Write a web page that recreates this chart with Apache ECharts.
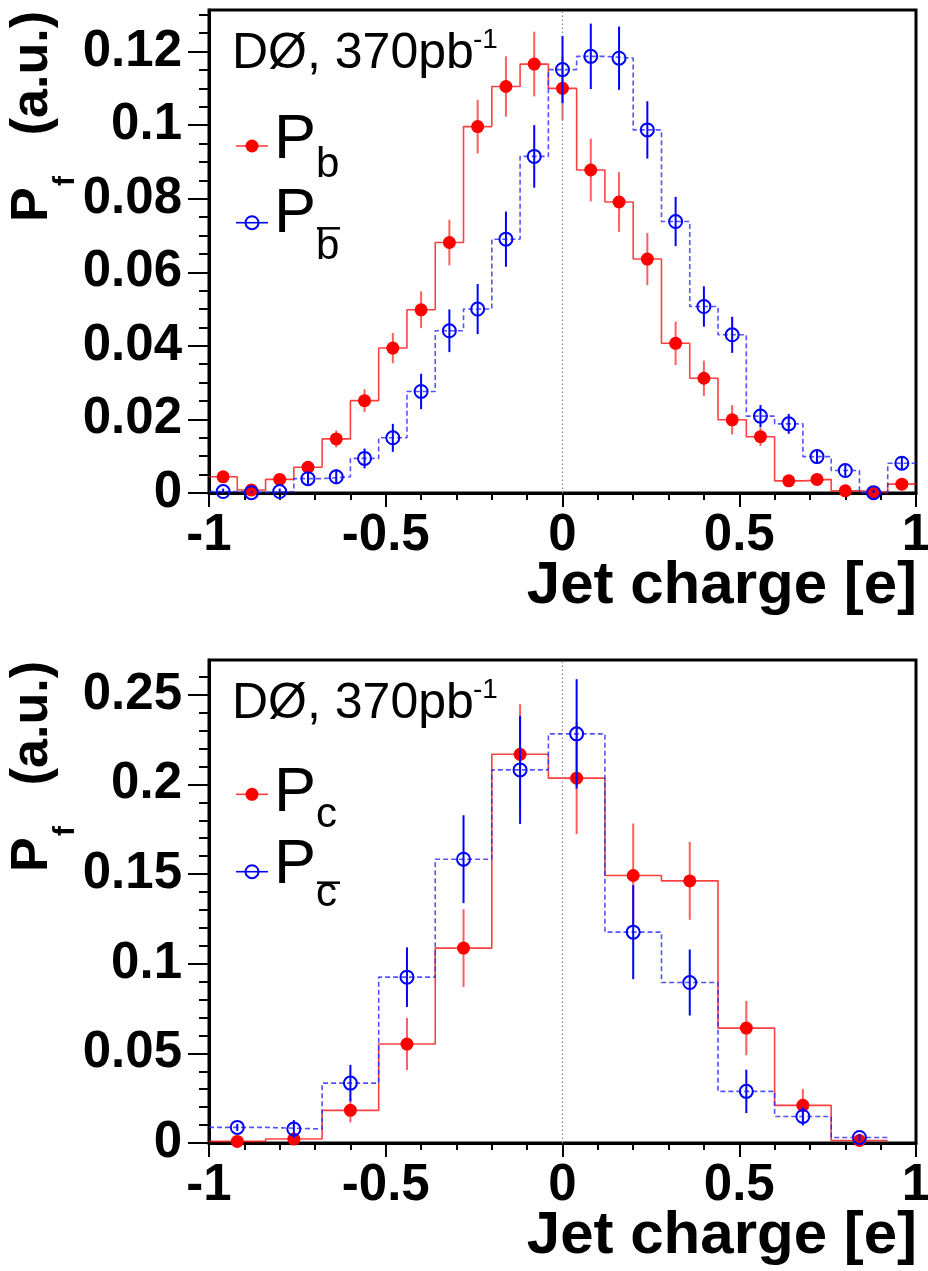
<!DOCTYPE html>
<html><head><meta charset="utf-8">
<script src="https://cdn.jsdelivr.net/npm/echarts@6/dist/echarts.min.js"></script>
<style>html,body{margin:0;padding:0;background:#fff}#c{width:928px;height:1271px}</style>
</head><body><div id="c"></div><script>
// ---------------- data ----------------
const xTickValues = [-1, -0.5, 0, 0.5, 1];
const xTickLabels = ['-1', '-0.5', '0', '0.5', '1'];
const yTickValuesB = [0, 0.02, 0.04, 0.06, 0.08, 0.10, 0.12];
const yTickLabelsB = ['0', '0.02', '0.04', '0.06', '0.08', '0.1', '0.12'];
const yTickValuesC = [0, 0.05, 0.10, 0.15, 0.20, 0.25];
const yTickLabelsC = ['0', '0.05', '0.1', '0.15', '0.2', '0.25'];

// top panel: b / b-bar jets, 25 bins of width 0.08
const binCentersB = [-0.96,-0.88,-0.80,-0.72,-0.64,-0.56,-0.48,-0.40,-0.32,-0.24,-0.16,-0.08,0.00,
                     0.08,0.16,0.24,0.32,0.40,0.48,0.56,0.64,0.72,0.80,0.88,0.96];
const binWidthB = 0.08;
const pB     = [0.0044,0.0008,0.0037,0.0070,0.0147,0.0251,0.0394,0.0498,0.0681,0.0996,0.1105,0.1166,0.1100,
                0.0878,0.0791,0.0636,0.0407,0.0312,0.0199,0.0153,0.0033,0.0037,0.0006,0.0001,0.0024];
const pBErr  = [0.0012,0.0006,0.0010,0.0014,0.0023,0.0031,0.0041,0.0050,0.0062,0.0073,0.0082,0.0088,0.0086,
                0.0085,0.0081,0.0071,0.0059,0.0048,0.0040,0.0025,0.0012,0.0012,0.0006,0.0004,0.0010];
const pBbar    = [0.0004,0.0001,0.0004,0.0039,0.0044,0.0094,0.0150,0.0276,0.0441,0.0500,0.0690,0.0915,0.1151,
                  0.1187,0.1182,0.0987,0.0738,0.0507,0.0430,0.0209,0.0188,0.0099,0.0061,0.0001,0.0081];
const pBbarErr = [0.0008,0.0004,0.0008,0.0015,0.0020,0.0027,0.0038,0.0048,0.0058,0.0068,0.0075,0.0085,0.0091,
                  0.0089,0.0086,0.0078,0.0067,0.0055,0.0049,0.0030,0.0027,0.0018,0.0016,0.0008,0.0018];

// bottom panel: c / c-bar jets, 12 bins of width 0.16
const binCentersC = [-0.92,-0.76,-0.60,-0.44,-0.28,-0.12,0.04,0.20,0.36,0.52,0.68,0.84];
const binWidthC = 0.16;
const pC       = [0.0009,0.0022,0.0182,0.0552,0.1087,0.2168,0.2035,0.1492,0.1462,0.0641,0.0210,0.0014];
const pCErr    = [0.0010,0.0020,0.0067,0.0145,0.0217,0.0279,0.0312,0.0290,0.0217,0.0151,0.0091,0.0010];
const pCbar    = [0.0087,0.0078,0.0334,0.0925,0.1583,0.2081,0.2282,0.1176,0.0895,0.0288,0.0148,0.0031];
const pCbarErr = [0.0020,0.0050,0.0102,0.0166,0.0245,0.0301,0.0305,0.0262,0.0184,0.0121,0.0050,0.0020];

const yMaxB = 0.1313;
const yMaxC = 0.2694;

// ---------------- helpers ----------------
const FONT = "'Liberation Sans', Arial, Helvetica, sans-serif";
const RED = '#ff0000', RED_LINE = 'rgba(255,0,0,0.75)', RED_ERR = 'rgba(255,40,40,0.75)';
const BLUE = '#0000ff', BLUE_LINE = 'rgba(40,40,255,0.8)';

function range(a, b, step) { const r = []; for (let v = a; v <= b + 1e-9; v += step) r.push(+v.toFixed(4)); return r; }
function pick(values, labels) {
  return function (v) { for (let i = 0; i < values.length; i++) if (Math.abs(values[i] - v) < 1e-7) return labels[i]; return ''; };
}
function stepData(c, v, w) {
  const d = c.map((x, i) => [+(x - w / 2).toFixed(4), v[i]]);
  d.push([+(c[c.length - 1] + w / 2).toFixed(4), v[v.length - 1]]);
  return d;
}
function ptData(c, v, e) { return c.map((x, i) => [x, v[i], e[i]]); }
function errRender(color, width) {
  return function (params, api) {
    const x = api.value(0), y = api.value(1), e = api.value(2);
    const a = api.coord([x, y + e]), b = api.coord([x, y - e]);
    return { type: 'line', shape: { x1: a[0], y1: a[1], x2: b[0], y2: b[1] },
             style: { stroke: color, lineWidth: width } };
  };
}
const labelStyle = { fontSize: 51, fontWeight: 'bold', fontFamily: FONT, color: '#000' };

function xAxes(gi) {
  return [
    { type: 'value', gridIndex: gi, position: 'bottom', min: -1, max: 1,
      axisLine: { onZero: false, lineStyle: { color: '#000', width: 3 } },
      axisTick: { show: true, inside: false, length: 14, customValues: xTickValues, lineStyle: { color: '#000', width: 2 } },
      axisLabel: Object.assign({ customValues: xTickValues, formatter: pick(xTickValues, xTickLabels), margin: 17,
                                 showMinLabel: true, showMaxLabel: true, hideOverlap: false }, labelStyle),
      splitLine: { show: false } },
    { type: 'value', gridIndex: gi, position: 'bottom', min: -1, max: 1,
      axisLine: { show: false, onZero: false },
      axisTick: { show: true, inside: false, length: 7, customValues: range(-0.9, 0.9, 0.1), lineStyle: { color: '#000', width: 2 } },
      axisLabel: { show: false }, splitLine: { show: false } }
  ];
}
function yAxes(gi, max, vals, labs, minorStep) {
  return [
    { type: 'value', gridIndex: gi, position: 'left', min: 0, max: max,
      axisLine: { show: true, onZero: false, lineStyle: { color: '#000', width: 3 } },
      axisTick: { show: true, inside: false, length: 21, customValues: vals, lineStyle: { color: '#000', width: 2 } },
      axisLabel: Object.assign({ customValues: vals, formatter: pick(vals, labs), margin: 27, padding: [9, 0, 0, 0],
                                 showMinLabel: true, showMaxLabel: true, hideOverlap: false }, labelStyle),
      splitLine: { show: false } },
    { type: 'value', gridIndex: gi, position: 'left', min: 0, max: max,
      axisLine: { show: false, onZero: false },
      axisTick: { show: true, inside: false, length: 10, customValues: range(minorStep, max, minorStep), lineStyle: { color: '#000', width: 2 } },
      axisLabel: { show: false }, splitLine: { show: false } }
  ];
}
function panelSeries(ax, centers, w, v1, e1, v2, e2) {
  return [
    { type: 'line', xAxisIndex: ax, yAxisIndex: ax, data: stepData(centers, v1, w), step: 'end',
      showSymbol: false, symbol: 'none', lineStyle: { color: RED_LINE, width: 1.6 }, z: 2, silent: true,
      markLine: { silent: true, symbol: ['none', 'none'], label: { show: false },
                  lineStyle: { color: '#888', type: [1.5, 2.5], width: 1.2 }, data: [{ xAxis: 0 }] } },
    { type: 'line', xAxisIndex: ax, yAxisIndex: ax, data: stepData(centers, v2, w), step: 'end',
      showSymbol: false, symbol: 'none', lineStyle: { color: BLUE_LINE, width: 1.6, type: [5, 3] }, z: 2, silent: true },
    { type: 'custom', xAxisIndex: ax, yAxisIndex: ax, data: ptData(centers, v1, e1), clip: true,
      renderItem: errRender(RED_ERR, 2), encode: { x: 0, y: 1 }, z: 3, silent: true },
    { type: 'scatter', xAxisIndex: ax, yAxisIndex: ax, data: ptData(centers, v1, e1), symbol: 'circle', symbolSize: 13,
      itemStyle: { color: RED, opacity: 1 }, z: 4, silent: true },
    { type: 'custom', xAxisIndex: ax, yAxisIndex: ax, data: ptData(centers, v2, e2), clip: true,
      renderItem: errRender(BLUE, 2), encode: { x: 0, y: 1 }, z: 5, silent: true },
    { type: 'scatter', xAxisIndex: ax, yAxisIndex: ax, data: ptData(centers, v2, e2), symbol: 'circle', symbolSize: 13,
      itemStyle: { color: 'rgba(0,0,0,0)', borderColor: BLUE, borderWidth: 2, opacity: 1 }, z: 6, silent: true }
  ];
}

function txt(x, y, text, size, weight, align, rot) {
  return { type: 'text', x: x, y: y, rotation: rot || 0, z: 100, silent: true,
    style: { text: text, x: 0, y: 0, fontSize: size, fontWeight: weight || 'normal', fontFamily: FONT, fill: '#000',
             align: align || 'left', textAlign: align || 'left', verticalAlign: 'middle', textVerticalAlign: 'middle' } };
}
function seg(x1, y1, x2, y2, color, w, dash) {
  return { type: 'line', z: 100, silent: true, shape: { x1, y1, x2, y2 }, style: { stroke: color, lineWidth: w, lineDash: dash || null } };
}
function circ(cx, cy, r, fill, stroke) {
  return { type: 'circle', z: 101, silent: true, shape: { cx, cy, r }, style: { fill: fill, stroke: stroke || null, lineWidth: 2 } };
}
function panelGraphics(dy, sub, l) {
  const g = [];
  // annotation
  g.push(txt(232, 54.4 + dy, 'DØ, 370pb', 50));
  g.push(txt(473, 40.5 + dy, '-1', 28));
  // y title (rotated)
  g.push(txt(33, 222 + dy, 'P', 52, 'bold', 'left', Math.PI / 2));
  g.push(txt(66, 186 + dy, 'f', 30, 'bold', 'left', Math.PI / 2));
  g.push(txt(33, 11 + dy, '(a.u.)', 52, 'bold', 'right', Math.PI / 2));
  // x title
  g.push(txt(917, 586.6 + dy, 'Jet charge [e]', 60, 'bold', 'right'));
  // legend
  g.push(seg(236, l[0], 268, l[0], RED_LINE, 1.6));
  g.push(circ(252, l[0], 6.5, RED));
  g.push(txt(274, l[1], 'P', 63));
  g.push(txt(316, l[2], sub, 42));
  g.push(seg(236, l[3], 268, l[3], BLUE, 1.6));
  g.push(circ(252, l[3], 6.5, 'rgba(0,0,0,0)', BLUE));
  g.push(txt(274, l[4], 'P', 63));
  g.push(seg(317, l[5], 340, l[5], '#000', 2.5));
  g.push(txt(316, l[6], sub, 42));
  return g;
}

const chart = echarts.init(document.getElementById('c'), null, { renderer: 'canvas' });
chart.setOption({
  animation: false,
  backgroundColor: '#fff',
  grid: [
    { left: 209, top: 10, width: 707, height: 483, show: true, borderColor: '#000', borderWidth: 3, backgroundColor: 'transparent', containLabel: false, outerBoundsMode: 'none' },
    { left: 209, top: 660, width: 707, height: 483, show: true, borderColor: '#000', borderWidth: 3, backgroundColor: 'transparent', containLabel: false, outerBoundsMode: 'none' }
  ],
  xAxis: [].concat(xAxes(0), xAxes(1)),
  yAxis: [].concat(yAxes(0, yMaxB, yTickValuesB, yTickLabelsB, 0.005), yAxes(1, yMaxC, yTickValuesC, yTickLabelsC, 0.01)),
  series: [].concat(
    panelSeries(0, binCentersB, binWidthB, pB, pBErr, pBbar, pBbarErr),
    panelSeries(2, binCentersC, binWidthC, pC, pCErr, pCbar, pCbarErr)
  ),
  graphic: { elements: [].concat(
    panelGraphics(0, 'b', [146, 140.5, 165.4, 222.7, 214.9, 228.3, 247.4]),
    panelGraphics(650, 'c', [794.3, 793.2, 815.4, 871.7, 865.2, 882.7, 894.1])
  ) }
});
</script></body></html>
